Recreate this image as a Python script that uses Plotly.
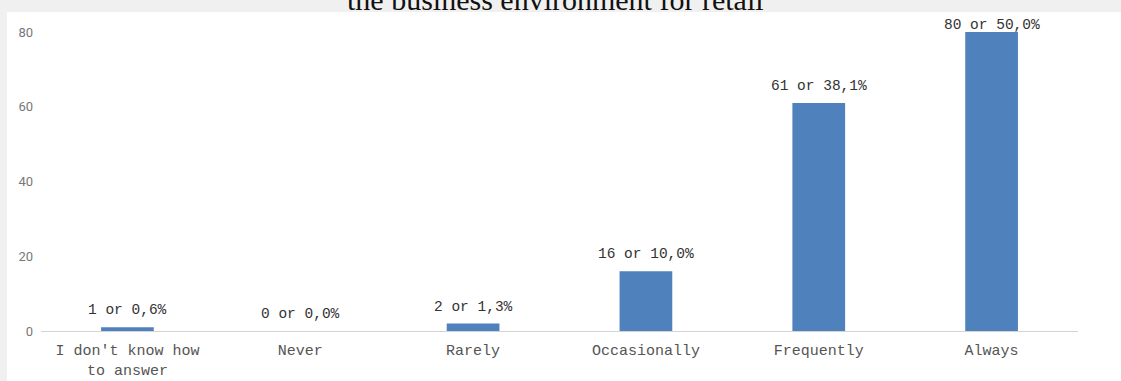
import plotly.graph_objects as go

categories = ["I don't know how<br>to answer", "Never", "Rarely", "Occasionally", "Frequently", "Always"]
counts = [1, 0, 2, 16, 61, 80]
percents = ["0,6%", "0,0%", "1,3%", "10,0%", "38,1%", "50,0%"]
title_text = "the business environment for retail"
y_ticks = [0, 20, 40, 60, 80]

W, H = 1121, 381
ML, MR, MT, MB = 41, 43, 32, 50
PW, PH = W - ML - MR, H - MT - MB

def px_to_paper_x(px):
    return (px - ML) / PW

def px_to_paper_y(py):
    return (H - MB - py) / PH

mono = "Courier New, Liberation Mono, monospace"
xs = list(range(len(categories)))

fig = go.Figure()
fig.add_trace(go.Bar(
    x=xs, y=counts, width=0.305,
    marker=dict(color="#4f81bd", line=dict(width=0)),
    hoverinfo="skip", showlegend=False,
))

ymax = max(y_ticks)
for x, c, p in zip(xs, counts, percents):
    fig.add_annotation(
        x=x, y=c, xref="x", yref="y",
        text=f"{c} or {p}", showarrow=False,
        yanchor="bottom", yshift=(-3 if c >= ymax else 7),
        font=dict(family=mono, size=14.5, color="#333333"),
    )

# white panel
fig.add_shape(
    type="rect", xref="paper", yref="paper", layer="below",
    x0=px_to_paper_x(7), x1=px_to_paper_x(W + 10),
    y0=px_to_paper_y(H + 10), y1=px_to_paper_y(12),
    fillcolor="white", line=dict(width=0),
)

fig.add_annotation(
    xref="paper", yref="paper",
    x=px_to_paper_x(555.5), y=px_to_paper_y(18),
    xanchor="center", yanchor="bottom", showarrow=False,
    text=title_text, font=dict(family="Liberation Serif, Times New Roman, serif", size=30, color="#111111"),
)

fig.update_layout(
    width=W, height=H,
    margin=dict(l=ML, r=MR, t=MT, b=MB, pad=0, autoexpand=False),
    paper_bgcolor="#f0f0f0",
    plot_bgcolor="rgba(0,0,0,0)",
    xaxis=dict(
        range=[-0.5, len(categories) - 0.5], automargin=False,
        tickmode="array", tickvals=xs, ticktext=categories,
        showgrid=False, zeroline=False,
        showline=True, linecolor="#d4d4d4", linewidth=1,
        tickfont=dict(family=mono, size=15, color="#555555"),
        ticks="", ticklabelstandoff=5,
    ),
    yaxis=dict(
        range=[0, ymax], tickmode="array", tickvals=y_ticks, automargin=False,
        showgrid=False, zeroline=False, showline=False,
        tickfont=dict(family="Roboto, Arial, sans-serif", size=13, color="#777777"),
        ticks="", ticklabelstandoff=7,
    ),
)

fig.write_html("out.html")
